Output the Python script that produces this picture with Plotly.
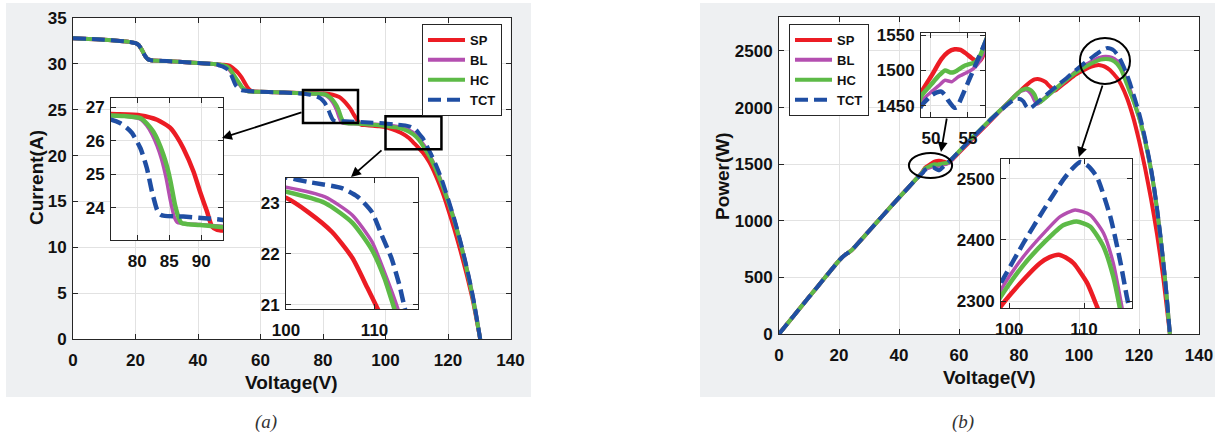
import plotly.graph_objects as go

W, H = 1221, 439

# ---------------- Panel (a): I-V curves ----------------
iv_base_v = [0, 5, 10, 15, 18, 20, 21, 22, 23, 24, 25, 30, 35, 40, 45, 46]
iv_base_i = [32.8, 32.72, 32.62, 32.5, 32.4, 32.25, 32.05, 31.55, 30.9, 30.5, 30.4, 30.3, 30.2, 30.1, 29.98, 29.95]

iv_sp_v = [48, 50, 51, 52, 53, 54, 55, 56, 57, 58, 60, 65, 70, 75.9, 80.5, 83.1, 85.2, 86.2, 87.2, 88.8,
           89.8, 90.9, 91.7, 92.5, 93.4, 96, 98, 100, 102.5, 105.2, 107.5, 109.2, 110.3, 112, 114, 116, 118, 120, 122, 124,
           126, 128, 130.3]
iv_sp_i = [29.9, 29.82, 29.6, 29.3, 28.95, 28.5, 27.9, 27.35, 27.05, 26.98, 26.95, 26.9, 26.86, 26.8, 26.76, 26.63, 26.38, 26.12, 25.78, 25.08,
           24.49, 23.89, 23.44, 23.34, 23.32, 23.25, 23.2, 23.1, 22.82, 22.43, 21.92, 21.33, 20.94, 20.3, 19.3, 17.9, 16.2, 14.2, 12.0, 9.6,
           7.0, 4.1, 0]

iv_bl_v = [48, 49, 50, 51, 52, 53, 54, 55, 56, 58, 60, 65, 70, 75.9, 78, 80.5, 81.5, 82.3, 83.1, 83.8,
           84.5, 85.2, 85.8, 86.3, 88, 89.8, 93.4, 96, 100, 104.4, 107.5, 109.7, 111.1, 112.6, 114, 116, 118, 120, 122, 124,
           126, 128, 130.3]
iv_bl_i = [29.83, 29.7, 29.4, 28.95, 28.4, 27.9, 27.45, 27.12, 27.0, 26.96, 26.94, 26.9, 26.85, 26.76, 26.74, 26.65, 26.45, 26.2, 25.85, 25.45,
           24.9, 24.2, 23.72, 23.56, 23.52, 23.5, 23.45, 23.4, 23.31, 23.12, 22.76, 22.24, 21.65, 20.94, 20.1, 18.7, 17.0, 15.1, 13.0, 10.5,
           7.7, 4.5, 0]

iv_hc_v = [48, 49, 50, 51, 52, 53, 54, 55, 56, 58, 60, 65, 70, 75.9, 78, 80.5, 81.5, 82.5, 83.3, 84.1,
           84.7, 85.2, 85.9, 86.5, 86.9, 88, 89.8, 93.4, 96, 100, 104.4, 107.5, 109.7, 111.1, 112.2, 114, 116, 118, 120, 122,
           124, 126, 128, 130.3]
iv_hc_i = [29.85, 29.75, 29.5, 29.05, 28.5, 28.0, 27.5, 27.15, 27.02, 26.97, 26.95, 26.9, 26.85, 26.76, 26.74, 26.68, 26.52, 26.28, 25.98, 25.58,
           25.2, 24.79, 24.09, 23.69, 23.55, 23.51, 23.49, 23.42, 23.35, 23.22, 23.0, 22.61, 22.08, 21.53, 20.94, 19.95, 18.55, 16.9, 15.0, 12.9,
           10.4, 7.6, 4.4, 0]

iv_tct_v = [47, 48, 49, 50, 51, 52, 53, 54, 56, 58, 60, 65, 70, 73, 75.9, 77.3, 78.3, 79.2, 80.5, 81.5,
            82.3, 83.1, 83.6, 84.3, 87.2, 90, 93.4, 96, 100, 102.6, 106.3, 108.1, 109.7, 110.8, 111.9, 112.8, 113.4, 114.5, 116, 118,
            120, 122, 124, 126, 128, 130.3]
iv_tct_i = [29.8, 29.7, 29.5, 29.2, 28.5, 27.7, 27.3, 27.12, 27.05, 26.99, 26.96, 26.9, 26.83, 26.76, 26.63, 26.53, 26.4, 26.23, 25.78, 25.19,
            24.49, 23.94, 23.8, 23.76, 23.74, 23.7, 23.64, 23.58, 23.5, 23.41, 23.29, 23.12, 22.82, 22.37, 21.92, 21.39, 20.94, 20.2, 19.1, 17.4,
            15.3, 13.1, 10.6, 7.8, 4.6, 0]

# ---------------- Panel (b): P-V curves ----------------
pv_base_v = [0, 5, 10, 15, 20, 21, 22, 23, 24, 25, 30, 35, 40, 45, 46]
pv_base_p = [0, 164, 326, 488, 648, 676, 698, 716, 735, 762, 910, 1058, 1204, 1348, 1376]

pv_sp_v = [47, 48, 48.65, 50.1, 51.4, 52.3, 53.2, 54, 54.6, 55.7, 56.4, 56.9, 57.3, 58, 60, 65, 70, 75.9, 78, 80.5,
           83.1, 85.2, 86.2, 87.2, 88.8, 89.8, 90.9, 91.7, 92.5, 93.4, 96, 98.9, 101.9, 104.1, 105.4, 106.6, 107.6, 108.6, 110.4, 111.7,
           113, 114, 116, 118, 120, 122, 124, 126, 128, 130.3]
pv_sp_p = [1405, 1440, 1468, 1493, 1516, 1526, 1530, 1529, 1525, 1516, 1512, 1518, 1530, 1548, 1602, 1736, 1870, 2030, 2085, 2150,
           2212, 2248, 2252, 2247, 2227, 2199, 2172, 2150, 2158, 2178, 2232, 2292, 2335, 2362, 2372, 2376, 2371, 2362, 2330, 2292,
           2250, 2205, 2085, 1920, 1710, 1470, 1195, 885, 515, 0]

pv_bl_v = [47, 48, 48.65, 50.1, 51, 51.9, 52.8, 53.7, 55.05, 56, 56.7, 57.3, 58, 60, 65, 70, 75.9, 78, 80.5, 81.5,
           82.3, 83.1, 83.8, 84.5, 85.2, 85.8, 86.3, 88, 90, 93.4, 96, 98.9, 101.9, 105, 106.8, 108.8, 110.8, 112.6, 113.9, 115,
           116, 117, 118, 119, 120, 121, 122, 123, 124, 125, 126, 127, 128, 129, 130.3]
pv_bl_p = [1403, 1432, 1456, 1470, 1478, 1486, 1484, 1491, 1498, 1505, 1515, 1530, 1550, 1608, 1742, 1877, 2030, 2086, 2145, 2155,
           2160, 2150, 2132, 2105, 2065, 2040, 2035, 2070, 2115, 2190, 2250, 2319, 2373, 2416, 2438, 2449, 2441, 2411, 2362, 2294,
           2228, 2155, 2078, 1998, 1917, 1822, 1712, 1587, 1452, 1292, 1102, 891, 656, 396, 0]

pv_hc_v = [47, 48, 48.65, 50.1, 51, 51.9, 52.6, 53.2, 54.6, 56, 56.7, 57.3, 58, 60, 65, 70, 75.9, 78, 80.5, 81.5,
           82.5, 83.3, 84.1, 84.7, 85.2, 85.9, 86.5, 86.9, 88, 90, 93.4, 96, 98.9, 101.9, 105, 107.2, 109, 110.8, 112.6, 113.9,
           114.7, 116, 117, 118, 119, 120, 121, 122, 123, 124, 125, 126, 127, 128, 129, 130.3]
pv_hc_p = [1404, 1435, 1463, 1481, 1492, 1500, 1497, 1498, 1507, 1512, 1522, 1539, 1558, 1613, 1750, 1883, 2030, 2086, 2148, 2160,
           2168, 2163, 2151, 2134, 2113, 2069, 2049, 2046, 2068, 2114, 2194, 2250, 2308, 2359, 2400, 2424, 2430, 2422, 2389, 2340,
           2294, 2205, 2135, 2070, 1995, 1915, 1820, 1710, 1585, 1450, 1290, 1100, 890, 655, 395, 0]

pv_tct_v = [47, 48, 48.65, 50.1, 50.8, 51.4, 51.9, 52.3, 53.2, 53.5, 53.9, 55.05, 56.2, 57.3, 58, 60, 65, 70, 73, 75.9,
            77.3, 78.3, 79.2, 80.5, 81.5, 82.3, 83.1, 83.6, 84.3, 87.2, 90, 93.4, 96, 98.9, 101.9, 104.6, 107.2, 108.4, 109.5, 110.5,
            111.7, 113.5, 114.8, 115.7, 116, 117, 118, 119, 120, 121, 122, 123, 124, 125, 126, 127, 128, 129, 130.3]
pv_tct_p = [1401, 1426, 1449, 1465, 1469, 1470, 1465, 1458, 1447, 1448, 1456, 1484, 1512, 1539, 1557, 1612, 1747, 1880, 1953, 2020,
            2050, 2066, 2077, 2075, 2053, 2015, 1990, 1990, 2003, 2070, 2133, 2208, 2264, 2330, 2395, 2449, 2498, 2516, 2527, 2521,
            2503, 2438, 2367, 2308, 2290, 2215, 2130, 2045, 1955, 1850, 1730, 1600, 1460, 1300, 1110, 900, 660, 400, 0]

series_names = ["SP", "BL", "HC", "TCT"]
series_colors = ["#EC1C24", "#B44FB0", "#5DBA47", "#1F4EA3"]

iv_series = [(iv_sp_v, iv_sp_i), (iv_bl_v, iv_bl_i), (iv_hc_v, iv_hc_i), (iv_tct_v, iv_tct_i)]
pv_series = [(pv_sp_v, pv_sp_p), (pv_bl_v, pv_bl_p), (pv_hc_v, pv_hc_p), (pv_tct_v, pv_tct_p)]

FONT = "Liberation Sans, Arial, sans-serif"


def px(x):
    return x / W


def py(y):
    return 1 - y / H


fig = go.Figure()

for panel, series, base_v, base_y, axes, legend in [
    ("a", iv_series, iv_base_v, iv_base_i, [("x", "y"), ("x2", "y2"), ("x3", "y3")], "legend"),
    ("b", pv_series, pv_base_v, pv_base_p, [("x4", "y4"), ("x5", "y5"), ("x6", "y6")], "legend2"),
]:
    for k, (xa, ya) in enumerate(axes):
        for name, color, (sv, sy) in zip(series_names, series_colors, series):
            dash = "13px,6px" if name == "TCT" else "solid"
            width = 4 if k == 0 else 4.5
            if name == "BL" and k > 0:
                width = 3.5
            fig.add_trace(go.Scatter(
                x=base_v + sv, y=base_y + sy, mode="lines", name=name,
                line=dict(color=color, width=width, dash=dash, shape="spline", smoothing=0.6),
                xaxis=xa, yaxis=ya, showlegend=(k == 0), legend=legend,
                hoverinfo="skip",
            ))

tickfont = dict(family=FONT, size=17, color="#111111", weight="bold")
common = dict(showline=True, linecolor="#262626", linewidth=1, mirror="ticks", ticks="inside",
              ticklen=5, tickcolor="#262626", showgrid=True, gridcolor="#E2E2E2", gridwidth=1,
              zeroline=False, tickfont=tickfont, fixedrange=True, automargin=False)
xcommon = dict(ticklabelstandoff=6, **common)
ycommon = dict(ticklabelstandoff=2, **common)

layout_axes = dict(
    xaxis=dict(domain=[px(73), px(510.5)], range=[0, 140], tickvals=[0, 20, 40, 60, 80, 100, 120, 140], anchor="y", **xcommon),
    yaxis=dict(domain=[py(339), py(18)], range=[0, 35], tickvals=[0, 5, 10, 15, 20, 25, 30, 35], anchor="x", **ycommon),
    xaxis2=dict(domain=[px(111), px(223)], range=[75.9, 93.4], tickvals=[80, 85, 90], anchor="y2", **xcommon),
    yaxis2=dict(domain=[py(240), py(98)], range=[23.04, 27.28], tickvals=[24, 25, 26, 27], anchor="x2", **ycommon),
    xaxis3=dict(domain=[px(286), px(418)], range=[100, 114.9], tickvals=[100, 110], anchor="y3", **xcommon),
    yaxis3=dict(domain=[py(309), py(178)], range=[20.92, 23.49], tickvals=[21, 22, 23], anchor="x3", **ycommon),
    xaxis4=dict(domain=[px(779), px(1199)], range=[0, 140], tickvals=[0, 20, 40, 60, 80, 100, 120, 140], anchor="y4", **xcommon),
    yaxis4=dict(domain=[py(334), py(17)], range=[0, 2800], tickvals=[0, 500, 1000, 1500, 2000, 2500], anchor="x4", **ycommon),
    xaxis5=dict(domain=[px(921), px(985)], range=[48.65, 57.3], tickvals=[50, 55], anchor="y5", **xcommon),
    yaxis5=dict(domain=[py(117), py(33)], range=[1434, 1553], tickvals=[1450, 1500, 1550], anchor="x5", **ycommon),
    xaxis6=dict(domain=[px(1001), px(1132)], range=[98.9, 116.4], tickvals=[100, 110], anchor="y6", **xcommon),
    yaxis6=dict(domain=[py(308), py(159)], range=[2289, 2532], tickvals=[2300, 2400, 2500], anchor="x6", **ycommon),
)

legend_style = dict(bgcolor="white", bordercolor="#262626", borderwidth=1,
                    font=dict(family=FONT, size=13, color="#111111", weight="bold"),
                    xanchor="left", yanchor="top", xref="paper", yref="paper",
                    itemwidth=37, tracegroupgap=0, itemclick=False, itemdoubleclick=False)

shapes = [
    dict(type="rect", xref="paper", yref="paper", x0=px(6), x1=px(531), y0=py(397), y1=py(3),
         fillcolor="#EEF0F2", line=dict(width=0), layer="below"),
    dict(type="rect", xref="paper", yref="paper", x0=px(700), x1=px(1215), y0=py(397), y1=py(3),
         fillcolor="#EEF0F2", line=dict(width=0), layer="below"),
    dict(type="rect", xref="paper", yref="paper", x0=px(73), x1=px(510.5), y0=py(339), y1=py(18),
         fillcolor="white", line=dict(width=0), layer="below"),
    dict(type="rect", xref="paper", yref="paper", x0=px(779), x1=px(1199), y0=py(334), y1=py(17),
         fillcolor="white", line=dict(width=0), layer="below"),
    dict(type="rect", xref="x", yref="y", x0=73.6, x1=91.2, y0=23.55, y1=27.15,
         line=dict(color="black", width=2.5), fillcolor="rgba(0,0,0,0)"),
    dict(type="rect", xref="x", yref="y", x0=100, x1=117.9, y0=20.7, y1=24.3,
         line=dict(color="black", width=2.5), fillcolor="rgba(0,0,0,0)"),
    dict(type="circle", xref="x4", yref="y4", x0=43.3, x1=57.7, y0=1378, y1=1599,
         line=dict(color="black", width=2), fillcolor="rgba(0,0,0,0)"),
    dict(type="circle", xref="x4", yref="y4", x0=100.3, x1=117, y0=2208, y1=2615,
         line=dict(color="black", width=2), fillcolor="rgba(0,0,0,0)"),
]

arrow = dict(text="", showarrow=True, arrowhead=2, arrowsize=1.1, arrowwidth=1.8, arrowcolor="black",
             xref="paper", yref="paper", axref="pixel", ayref="pixel")
title_font = dict(family=FONT, size=19, color="#111111", weight="bold")
caption_font = dict(family="Liberation Serif, Times New Roman, serif", size=19, color="#333333", style="italic")
annotations = [
    dict(x=px(222), y=py(138), ax=81, ay=-26, **arrow),
    dict(x=px(351), y=py(177), ax=32, ay=-28, **arrow),
    dict(x=px(941), y=py(152), ax=6, ay=-35, **arrow),
    dict(x=px(1079), y=py(157), ax=24, ay=-73, **arrow),
    dict(text="Voltage(V)", x=px(291.5), y=py(382), xref="paper", yref="paper", showarrow=False,
         font=title_font, xanchor="center", yanchor="middle"),
    dict(text="Voltage(V)", x=px(989), y=py(377), xref="paper", yref="paper", showarrow=False,
         font=title_font, xanchor="center", yanchor="middle"),
    dict(text="Current(A)", x=px(36), y=py(178), xref="paper", yref="paper", showarrow=False,
         font=title_font, textangle=-90, xanchor="center", yanchor="middle"),
    dict(text="Power(W)", x=px(722), y=py(176), xref="paper", yref="paper", showarrow=False,
         font=title_font, textangle=-90, xanchor="center", yanchor="middle"),
    dict(text="(a)", x=px(266), y=py(422), xref="paper", yref="paper", showarrow=False,
         font=caption_font, xanchor="center", yanchor="middle"),
    dict(text="(b)", x=px(963), y=py(422), xref="paper", yref="paper", showarrow=False,
         font=caption_font, xanchor="center", yanchor="middle"),
]

fig.update_layout(
    width=W, height=H, margin=dict(l=0, r=0, t=0, b=0, pad=0, autoexpand=False),
    autosize=False,
    paper_bgcolor="white", plot_bgcolor="white",
    font=dict(family=FONT, color="#111111"),
    legend=dict(x=px(422), y=py(24), **legend_style),
    legend2=dict(x=px(789), y=py(24), **legend_style),
    shapes=shapes, annotations=annotations,
    hovermode=False,
    **layout_axes,
)

fig.write_html("out.html", config=dict(displayModeBar=False, responsive=False),
               post_script="document.body.style.margin='0';document.body.style.overflow='hidden';")
